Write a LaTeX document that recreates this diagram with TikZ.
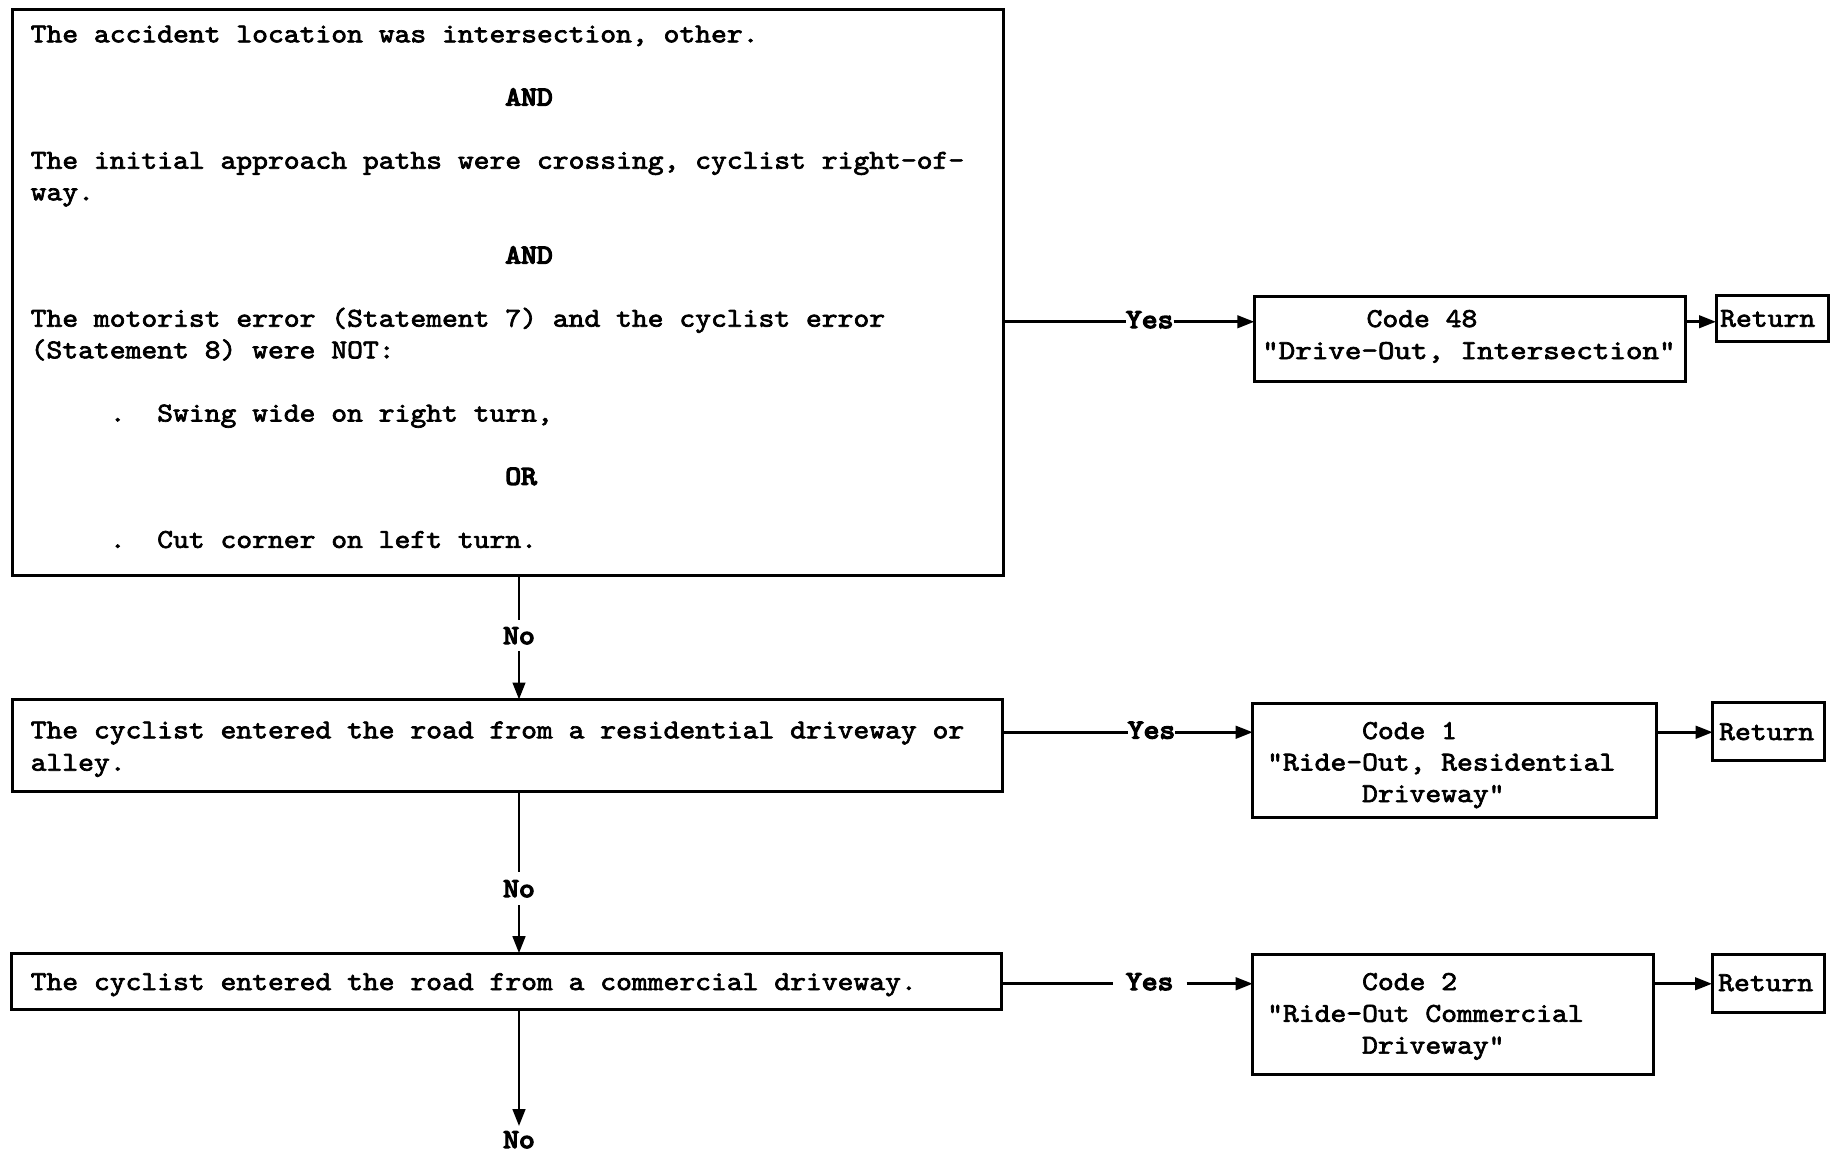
\documentclass[tikz,border=0pt]{standalone}
\usepackage{fontspec}
\usepackage{graphicx}
\usetikzlibrary{arrows.meta}
% typewriter face: Latin Modern Mono, widened and thickened
\newfontfamily\tw{lmmono10-regular.otf}[FakeStretch=1.104,FakeBold=2.5]
\newfontfamily\twb{lmmono10-regular.otf}[FakeStretch=1.104,FakeBold=5]
\newlength\cw \setlength\cw{15.82pt}
\newcommand\sk[1]{\hspace*{#1\cw}}
\frenchspacing
\tikzset{
  box/.style={draw, line width=3pt, rectangle, inner sep=0pt, outer sep=0pt, anchor=north west},
  txt/.style={anchor=base west, inner sep=0pt, font=\tw\fontsize{27.3}{31.6}\selectfont},
  yeslbl/.style={anchor=base, inner sep=0pt, text height=12.5pt, text depth=0pt, font=\twb\fontsize{27.3}{31.6}\selectfont},
  nolbl/.style={anchor=base, inner xsep=0pt, inner ysep=7pt, font=\twb\fontsize{27.3}{31.6}\selectfont},
  wire/.style={line width=2.8pt},
  flow/.style={wire, -{Triangle[length=17pt,width=12.5pt]}},
}
\begin{document}
\begin{tikzpicture}[x=1pt, y=-1pt]
\useasboundingbox (0,0) rectangle (1834,1152);
\fill[white] (0,0) rectangle (1834,1152);

% question boxes
\node[box, minimum width=990.7pt, minimum height=565.7pt] (q1) at (12.3,9.3) {};
\node[box, minimum width=990.1pt, minimum height=91.5pt] (q2) at (12.3,699.5) {};
\node[box, minimum width=989.3pt, minimum height=56.2pt] (q3) at (11.9,953.2) {};

% outcome boxes
\node[box, minimum width=430.7pt, minimum height=85pt] (c48) at (1254.3,296.7) {};
\node[box, minimum width=403.3pt, minimum height=114.7pt] (c1) at (1252.7,703) {};
\node[box, minimum width=401.2pt, minimum height=120.5pt] (c2) at (1252.7,954.4) {};

% return boxes
\node[box, minimum width=112.3pt, minimum height=45.3pt] (r1) at (1716,295.7) {};
\node[box, minimum width=111.6pt, minimum height=57.3pt] (r2) at (1712.7,702.7) {};
\node[box, minimum width=112.6pt, minimum height=58.5pt] (r3) at (1712,954.4) {};

% question texts
\node[txt] (t1) at (30.5,42.3) {\parbox[t]{960pt}{\tw\fontsize{27.3}{31.6}\selectfont
The accident location was intersection, other.\\
\mbox{}\\
\sk{30}{\twb AND}\\
\mbox{}\\
The initial approach paths were crossing, cyclist right-of-\\
way.\\
\mbox{}\\
\sk{30}{\twb AND}\\
\mbox{}\\
The motorist error (Statement 7) and the cyclist error\\
(Statement 8) were NOT:\\
\mbox{}\\
\sk{5}.\sk{2}Swing wide on right turn,\\
\mbox{}\\
\sk{30}{\twb OR}\\
\mbox{}\\
\sk{5}.\sk{2}Cut corner on left turn.}};

\node[txt] (t2) at (30.5,738.3) {\parbox[t]{960pt}{\tw\fontsize{27.3}{32.4}\selectfont
The cyclist entered the road from a residential driveway or\\
alley.}};

\node[txt] (t3) at (30.5,990) {The cyclist entered the road from a commercial driveway.};

% outcome texts
\node[txt] (t48) at (1262,327) {\parbox[t]{420pt}{\tw\fontsize{27.3}{32}\selectfont
\sk{6.6}Code 48\\
\scalebox{1.045}[1]{"Drive-Out, Intersection"}}};

\node[txt] (tc1) at (1267,739) {\parbox[t]{390pt}{\tw\fontsize{27.3}{31.5}\selectfont
\sk{6}Code 1\\
"Ride-Out, Residential\\
\sk{6}Driveway"}};

\node[txt] (tc2) at (1267,990) {\parbox[t]{390pt}{\tw\fontsize{27.3}{31.8}\selectfont
\sk{6}Code 2\\
"Ride-Out Commercial\\
\sk{6}Driveway"}};

\node[txt] (rt1) at (1720,326.7) {Return};
\node[txt] (rt2) at (1719,740) {Return};
\node[txt] (rt3) at (1718,991) {Return};

% branch labels
\node[yeslbl] (y1) at (1149.7,328) {Yes};
\node[yeslbl] (y2) at (1151.5,738.5) {Yes};
\node[yeslbl, inner xsep=13pt] (y3) at (1149.7,990) {Yes};

\node[nolbl] (n1) at (519,644) {No};
\node[nolbl, inner ysep=8pt] (n2) at (519,897) {No};
\node[nolbl, inner ysep=5pt] (n3) at (519,1148) {No};

% "No" branches
\draw[wire] (n1 |- q1.south) -- (n1);
\draw[flow] (n1) -- (n1 |- q2.north);
\draw[wire] (n2 |- q2.south) -- (n2);
\draw[flow] (n2) -- (n2 |- q3.north);
\draw[flow] (n3 |- q3.south) -- (n3);

% "Yes" branches
\draw[wire] (y1 -| q1.east) -- (y1);
\draw[flow] (y1) -- (y1 -| c48.west);
\draw[flow] (y1 -| c48.east) -- (y1 -| r1.west);

\draw[wire] (y2 -| q2.east) -- (y2);
\draw[flow] (y2) -- (y2 -| c1.west);
\draw[flow] (y2 -| c1.east) -- (y2 -| r2.west);

\draw[wire] (y3 -| q3.east) -- (y3);
\draw[flow] (y3) -- (y3 -| c2.west);
\draw[flow] (y3 -| c2.east) -- (y3 -| r3.west);
\end{tikzpicture}
\end{document}
